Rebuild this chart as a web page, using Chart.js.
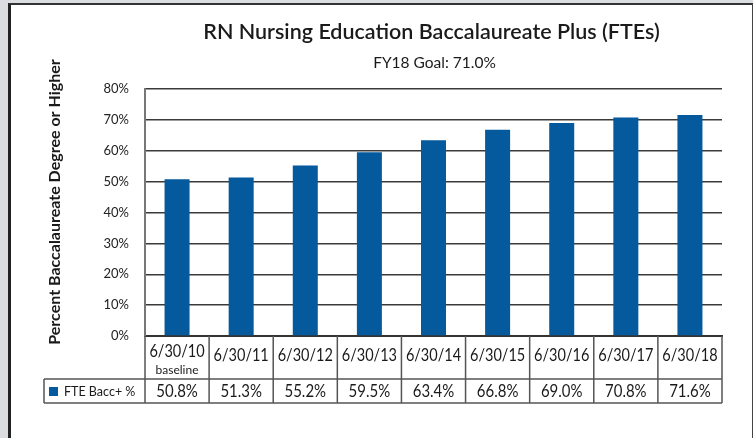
<!DOCTYPE html>
<html>
<head>
<meta charset="utf-8">
<script src="https://cdn.jsdelivr.net/npm/chart.js@4.4.0/dist/chart.umd.min.js"></script>
<style>
  html, body { margin: 0; padding: 0; background: #dcdde1; }
  #frame {
    position: absolute; left: 8px; top: 3px; width: 741px; height: 440px;
    background: #fff; border-left: 3px solid #222; border-top: 2px solid #333; border-right: 1px solid #444;
  }
  #wrap { position: absolute; left: 0; top: 0; width: 753px; height: 438px; }
</style>
</head>
<body>
<div id="frame"></div>
<div id="wrap"><canvas id="chart" width="753" height="438"></canvas></div>
<script>
var categories = ['6/30/10', '6/30/11', '6/30/12', '6/30/13', '6/30/14', '6/30/15', '6/30/16', '6/30/17', '6/30/18'];
var subLabels = ['baseline', '', '', '', '', '', '', '', ''];
var values = [50.8, 51.3, 55.2, 59.5, 63.4, 66.8, 69.0, 70.8, 71.6];
var valueLabels = ['50.8%', '51.3%', '55.2%', '59.5%', '63.4%', '66.8%', '69.0%', '70.8%', '71.6%'];
var seriesName = 'FTE Bacc+ %';
var yTicks = [0, 10, 20, 30, 40, 50, 60, 70, 80];

var titleText = 'RN Nursing Education Baccalaureate Plus (FTEs)';
var subtitleText = 'FY18 Goal: 71.0%';
var yTitle = 'Percent Baccalaureate Degree or Higher';

var barColor = '#05599d';
var FONT = 'Lato, "Open Sans", sans-serif';

// narrow text a bit (the original uses a condensed humanist face)
function narrowText(ctx, txt, x, y, sx) {
  ctx.save();
  ctx.translate(x, y);
  ctx.scale(sx, 1);
  ctx.fillText(txt, 0, 0);
  ctx.restore();
}

// titles, axis title and the data table under the bars
var extras = {
  id: 'extras',
  afterDraw: function(chart) {
    var ctx = chart.ctx;
    var x = chart.scales.x;
    var area = chart.chartArea;
    var half = (x.getPixelForValue(1) - x.getPixelForValue(0)) / 2;
    var row1 = area.bottom, row2 = area.bottom + 43, row3 = area.bottom + 67;
    var legLeft = 44;

    ctx.save();
    ctx.fillStyle = '#1a1a1a';
    ctx.textAlign = 'center';
    ctx.textBaseline = 'middle';
    ctx.font = '600 21.5px ' + FONT;
    ctx.fillText(titleText, (area.left + area.right) / 2 - 2, 32);
    ctx.font = '15.5px ' + FONT;
    ctx.fillText(subtitleText, (area.left + area.right) / 2 + 1, 63);

    ctx.save();
    ctx.translate(55, 202);
    ctx.rotate(-Math.PI / 2);
    ctx.font = 'bold 16px ' + FONT;
    ctx.fillText(yTitle, 0, 0);
    ctx.restore();

    // grid of the table
    ctx.strokeStyle = '#555';
    ctx.lineWidth = 1.5;
    ctx.beginPath();
    ctx.moveTo(legLeft, row2); ctx.lineTo(area.right, row2);
    ctx.moveTo(legLeft, row3); ctx.lineTo(area.right, row3);
    ctx.moveTo(legLeft, row2); ctx.lineTo(legLeft, row3);
    categories.forEach(function(c, i) {
      var l = x.getPixelForValue(i) - half;
      ctx.moveTo(l, row1); ctx.lineTo(l, row3);
    });
    ctx.moveTo(area.right, row1); ctx.lineTo(area.right, row3);
    ctx.stroke();

    categories.forEach(function(c, i) {
      var cx = x.getPixelForValue(i);
      ctx.font = '16.5px ' + FONT;
      if (subLabels[i]) {
        narrowText(ctx, c, cx, row1 + 16, 0.88);
        ctx.font = '12px ' + FONT;
        ctx.fillText(subLabels[i], cx, row1 + 34);
      } else {
        narrowText(ctx, c, cx, row1 + 20, 0.88);
      }
      ctx.font = '17px ' + FONT;
      narrowText(ctx, valueLabels[i], cx, (row2 + row3) / 2 + 1, 0.88);
    });

    ctx.fillStyle = barColor;
    ctx.fillRect(legLeft + 5, row2 + 8, 9, 9);
    ctx.fillStyle = '#1a1a1a';
    ctx.textAlign = 'left';
    ctx.font = '12.5px ' + FONT;
    ctx.fillText(seriesName, legLeft + 20, (row2 + row3) / 2 + 1);
    ctx.restore();
  }
};

new Chart(document.getElementById('chart'), {
  type: 'bar',
  data: {
    labels: categories,
    datasets: [{
      label: seriesName,
      data: values,
      backgroundColor: barColor,
      barPercentage: 0.39,
      categoryPercentage: 1
    }]
  },
  options: {
    responsive: false,
    animation: false,
    layout: { padding: { top: 89, right: 31, bottom: 102, left: 0 } },
    plugins: { legend: { display: false }, tooltip: { enabled: false }, title: { display: false } },
    scales: {
      x: {
        grid: { display: false },
        ticks: { display: false },
        border: { display: true, color: '#333', width: 2 },
        afterFit: function(s) { s.height = 0; }
      },
      y: {
        min: 0,
        max: 80,
        afterFit: function(s) { s.width = 145; },
        afterBuildTicks: function(s) { s.ticks = yTicks.map(function(v) { return { value: v }; }); },
        grid: { color: '#3a3a3a', lineWidth: 1.5, drawTicks: false },
        border: { display: true, color: '#777', width: 2 },
        ticks: {
          padding: 16,
          color: '#222',
          font: { family: FONT, size: 13 },
          callback: function(v) { return v + '%'; }
        }
      }
    }
  },
  plugins: [extras]
});
</script>
</body>
</html>
